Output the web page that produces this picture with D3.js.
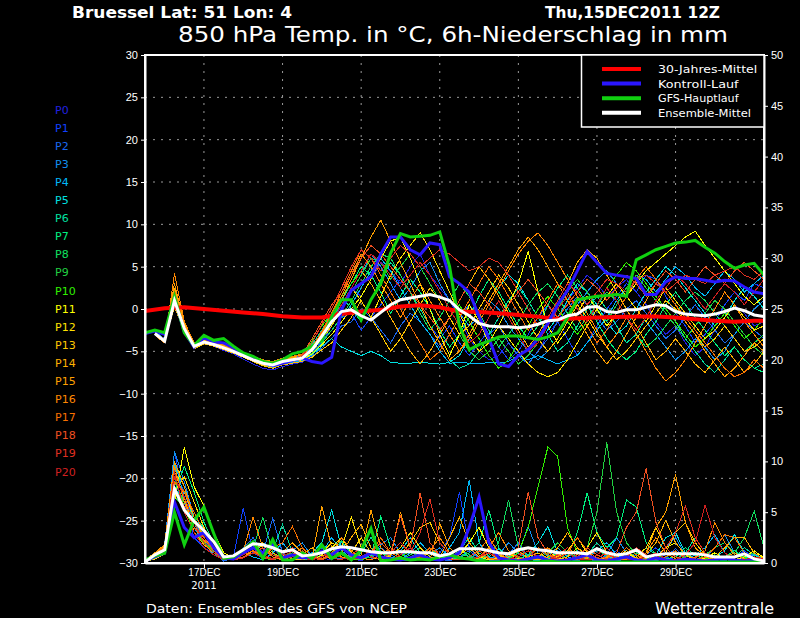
<!DOCTYPE html>
<html>
<head>
<meta charset="utf-8">
<script src="https://cdn.jsdelivr.net/npm/d3@7"></script>
<style>
  body { margin: 0; background: #000; }
  svg { display: block; font-family: "DejaVu Sans", sans-serif; }
</style>
</head>
<body>
<div id="chart"></div>
<script>
// ---- data (6-hourly steps from 15DEC2011 12Z) ----
var memberNames = ['P0','P1','P2','P3','P4','P5','P6','P7','P8','P9','P10',
                   'P11','P12','P13','P14','P15','P16','P17','P18','P19','P20'];
var memberColors = ['#2020e0','#1040ff','#1868f0','#1090f0','#00b8f8','#00e0e0',
                    '#00e0a0','#00f080','#10e060','#20d040','#30f000','#ffff00',
                    '#ffe000','#ffc800','#ffb000','#ffa000','#ff8800','#f87000',
                    '#f05020','#e03020','#d02020'];

var xTickDays = ['2011-12-17','2011-12-19','2011-12-21','2011-12-23','2011-12-25','2011-12-27','2011-12-29'];
var tempTicks = [-30,-25,-20,-15,-10,-5,0,5,10,15,20,25,30];
var precTicks = [0,5,10,15,20,25,30,35,40,45,50];

// 850 hPa temperature of each member
var t_P0 = [null,-2.8,-3.6,0.5,-2.5,-4.6,-4.1,-4.4,-4.9,-5.3,-5.9,-6.5,-7.0,-7.2,-6.8,-6.5,-6.3,-5.5,-4.0,
  -2.0,0.5,2.5,1.5,3.5,5.5,4.5,3.0,5.0,6.5,4.0,2.5,1.0,-1.0,-3.5,-5.0,-6.0,-5.5,-4.0,-5.5,-6.5,-5.0,-3.0,-1.5,1.0,2.5,4.0,3.0,1.5,2.5,3.5,2.0,0.5,-1.5,-3.0,-2.0,-4.0,-5.5,-4.5,-2.5,-1.0,0.5,-0.5,-2.0,-1.5,-1.0];
var t_P1 = [null,-3.0,-3.9,1.5,-2.0,-4.3,-3.8,-4.1,-4.5,-4.9,-5.4,-6.0,-6.5,-6.8,-6.5,-6.3,-6.1,-5.2,-3.8,
  -2.5,-1.0,-0.5,-2.5,-1.0,0.5,2.0,3.5,2.0,0.0,-2.0,-3.5,-2.0,-4.0,-5.5,-4.0,-2.5,-4.5,-6.0,-5.0,-3.0,-1.0,0.5,-1.5,-3.5,-5.5,-4.0,-2.0,0.0,1.5,3.0,2.0,4.0,3.5,1.5,-0.5,-2.0,-4.0,-3.0,-1.5,0.5,2.0,1.0,3.0,2.5,2.0];
var t_P2 = [null,-2.9,-3.7,0.8,-2.4,-4.5,-4.0,-4.3,-4.7,-5.1,-5.6,-6.2,-6.7,-7.0,-6.6,-6.4,-6.2,-5.6,-4.6,
  -3.5,-2.0,-1.5,0.0,-1.0,-2.5,-4.0,-2.0,-0.5,-1.5,-3.0,-4.5,-3.0,-1.0,0.5,-1.0,-3.0,-2.0,-4.0,-5.5,-6.5,-5.0,-3.5,-1.5,0.0,1.5,0.5,-1.0,-2.5,-1.5,0.0,1.0,-0.5,-2.0,-3.5,-2.5,-1.0,0.5,-1.0,-2.5,-4.0,-3.0,-1.5,-2.5,-3.5,-3.0];
var t_P3 = [null,-2.7,-3.5,2.0,-2.0,-4.2,-3.7,-4.0,-4.4,-4.8,-5.3,-5.8,-6.2,-6.4,-6.0,-5.8,-5.5,-4.5,-2.8,
  -1.0,0.5,2.0,4.0,6.5,5.0,3.0,1.0,2.5,4.5,5.5,3.0,1.0,-0.5,-2.0,-1.0,1.0,0.0,-2.0,-3.5,-5.0,-6.0,-5.0,-3.5,-1.5,0.5,2.0,3.5,4.5,3.0,1.5,0.0,-1.5,-3.0,-4.5,-6.0,-5.0,-3.5,-4.5,-6.0,-5.0,-3.0,-1.5,0.0,1.0,0.5];
var t_P4 = [null,-3.1,-4.0,1.2,-2.2,-4.6,-4.1,-4.4,-4.8,-5.2,-5.7,-6.2,-6.6,-6.9,-6.5,-6.3,-6.1,-5.3,-4.0,
  -2.5,-1.0,0.5,2.5,4.5,6.0,4.5,2.5,0.5,-1.5,-3.0,-5.0,-6.4,-6.3,-6.4,-6.5,-6.3,-6.4,-6.2,-5.5,-6.0,-5.5,-6.0,-6.5,-6.0,-5.5,-4.0,-2.5,-1.0,1.0,2.5,4.0,3.5,2.0,3.5,5.0,4.0,2.5,1.5,3.0,4.5,3.5,2.0,3.0,4.0,3.5];
var t_P5 = [null,-2.9,-3.8,0.6,-2.6,-4.5,-4.0,-4.3,-4.7,-5.1,-5.6,-6.1,-6.5,-6.8,-6.4,-6.2,-6.0,-5.4,-4.4,
  -3.5,-4.5,-5.0,-5.5,-5.0,-5.5,-6.3,-6.4,-6.4,-6.3,-6.4,-6.5,-6.3,-5.5,-3.5,-1.5,0.5,2.5,4.0,3.0,1.0,-1.0,-2.5,-1.0,1.0,3.0,2.0,0.5,-1.5,-3.0,-2.0,0.0,2.0,3.5,5.0,4.0,2.5,1.0,-0.5,-2.0,-1.0,1.0,2.5,1.5,0.0,-1.0];
var t_P6 = [null,-2.8,-3.7,1.8,-2.1,-4.3,-3.8,-4.1,-4.5,-4.9,-5.4,-5.9,-6.3,-6.5,-6.1,-5.9,-5.6,-4.2,-2.5,
  -0.5,1.5,0.0,-1.5,1.0,3.5,5.5,4.0,2.0,0.0,-2.0,-4.0,-6.0,-7.0,-6.5,-5.0,-3.0,-1.0,1.0,2.5,1.0,-1.0,-3.0,-5.0,-4.0,-2.0,0.0,1.5,0.0,-2.0,-4.0,-3.0,-1.0,1.0,0.0,-1.5,-3.5,-5.0,-6.5,-7.5,-6.0,-4.5,-6.0,-7.0,-6.5,-7.0];
var t_P7 = [null,-3.0,-3.9,1.3,-2.3,-4.4,-3.9,-4.2,-4.6,-5.0,-5.5,-6.0,-6.4,-6.6,-6.2,-6.0,-5.8,-4.9,-3.4,
  -1.5,1.0,3.0,5.0,4.0,2.0,-0.5,1.5,3.5,2.0,0.0,-2.5,-4.5,-3.0,-1.0,1.5,3.5,2.0,0.0,-2.0,-3.5,-2.0,0.5,2.5,4.0,2.5,0.5,-1.5,-3.5,-5.0,-6.0,-5.0,-3.0,-1.5,0.5,2.0,0.5,-1.0,-2.5,-4.0,-5.5,-4.5,-6.0,-7.0,-7.5,-7.5];
var t_P8 = [null,-2.8,-3.6,0.9,-2.4,-4.5,-4.0,-4.3,-4.7,-5.1,-5.6,-6.1,-6.5,-6.7,-6.3,-6.1,-5.9,-5.2,-4.0,
  -2.5,-1.0,1.0,3.0,5.0,6.5,6.0,4.0,2.0,-0.5,-2.5,-1.0,1.0,3.0,1.5,-0.5,-2.5,-4.5,-3.0,-1.5,0.5,2.0,3.0,1.5,-0.5,-2.5,-1.0,0.5,2.0,1.0,-1.0,-3.0,-4.5,-3.5,-2.0,-0.5,1.0,2.0,1.0,-0.5,-2.0,-3.5,-5.0,-4.0,-3.0,-3.5];
var t_P9 = [null,-2.9,-3.8,1.0,-2.5,-4.4,-3.9,-4.2,-4.6,-5.0,-5.5,-6.0,-6.4,-6.6,-6.2,-6.0,-5.8,-4.6,-3.0,
  -1.5,0.5,2.0,4.0,6.0,5.5,3.5,5.0,6.5,5.0,3.0,1.0,-1.0,-3.0,-5.0,-6.0,-5.0,-3.5,-5.0,-6.5,-5.5,-4.0,-2.0,0.0,2.0,3.5,2.0,0.0,-1.5,0.5,2.5,4.0,2.5,1.0,-0.5,-2.0,-3.5,-2.0,-0.5,1.0,0.0,-1.5,-3.0,-4.5,-5.5,-6.0];
var t_P10 = [null,-2.9,-3.7,1.6,-2.2,-4.3,-3.8,-4.1,-4.5,-4.9,-5.4,-5.9,-6.3,-6.5,-6.1,-5.9,-5.5,-3.8,-2.0,
  -0.5,1.5,3.0,4.5,3.0,1.0,-1.0,-3.0,-5.0,-6.5,-5.0,-3.0,-1.0,0.5,-1.5,-3.5,-5.5,-7.0,-6.0,-4.0,-2.0,0.0,1.5,0.0,-1.5,-3.0,-1.5,0.5,2.5,4.0,5.5,4.5,3.0,1.5,0.0,-1.5,-3.0,-4.5,-3.5,-2.0,-0.5,-2.0,-3.5,-2.5,-1.0,-1.5];
var t_P11 = [null,-3.0,-3.9,0.7,-2.6,-4.6,-4.1,-4.4,-4.8,-5.2,-5.7,-6.2,-6.6,-6.8,-6.4,-6.2,-6.0,-5.3,-4.2,
  -3.0,-1.5,0.0,1.5,3.5,6.0,8.0,8.5,6.0,3.0,0.0,-3.0,-5.5,-3.0,0.5,-1.5,-4.0,-2.0,0.5,3.0,6.8,2.0,-2.0,-4.0,-2.5,-0.5,1.5,0.0,-2.0,-0.5,1.5,3.0,4.5,5.5,6.5,7.5,8.5,9.2,7.5,6.0,4.5,3.0,1.5,0.5,1.5,1.0];
var t_P12 = [null,-2.8,-3.6,1.1,-2.3,-4.4,-3.9,-4.2,-4.6,-5.0,-5.5,-6.0,-6.4,-6.6,-6.2,-6.0,-5.8,-5.0,-3.6,
  -2.0,0.0,2.5,1.0,-1.0,1.5,4.0,6.0,7.5,9.0,7.0,4.5,2.0,-0.5,-3.0,-5.0,-4.0,-2.0,-3.5,-5.0,-6.5,-7.5,-8.0,-7.5,-6.0,-4.0,-2.0,0.0,1.5,3.0,1.5,0.0,-1.5,0.5,2.5,1.0,-0.5,-2.0,-3.5,-2.5,-1.0,0.5,-1.0,-2.5,-2.0,-1.5];
var t_P13 = [null,-3.0,-3.8,0.3,-2.7,-4.7,-4.1,-4.4,-4.8,-5.2,-5.7,-6.2,-6.7,-7.0,-6.6,-6.4,-6.2,-5.7,-4.8,
  -4.0,-2.5,-1.0,1.0,-1.0,-3.0,-5.0,-3.5,-1.5,0.5,2.5,1.0,-1.0,-3.0,-2.0,0.0,2.0,4.0,2.5,0.5,-1.5,-3.5,-5.0,-3.5,-1.5,0.5,-1.0,-3.0,-4.5,-6.0,-5.0,-3.5,-2.0,-0.5,1.0,0.0,-1.5,-3.0,-4.5,-3.5,-2.0,-3.5,-5.0,-4.5,-3.5,-4.0];
var t_P14 = [null,-2.9,-3.7,2.5,-1.8,-4.2,-3.7,-4.0,-4.4,-4.8,-5.3,-5.8,-6.2,-6.4,-6.0,-5.8,-5.6,-4.8,-3.3,
  -1.5,0.5,2.5,4.5,3.0,1.0,-1.0,-3.0,-5.0,-6.5,-5.0,-3.0,-1.0,1.0,3.0,5.0,3.5,1.5,-0.5,-2.5,-4.5,-3.0,-1.0,1.0,3.0,5.5,7.0,6.0,4.0,2.0,0.0,-2.0,-4.0,-6.0,-5.0,-3.5,-5.0,-6.5,-7.5,-6.0,-4.5,-6.0,-7.5,-6.5,-5.0,-5.5];
var t_P15 = [null,-2.8,-3.6,3.0,-1.6,-4.1,-3.6,-3.9,-4.3,-4.7,-5.2,-5.7,-6.1,-6.3,-5.9,-5.7,-5.4,-4.5,-3.0,
  -1.0,1.0,3.5,6.0,8.5,10.5,8.0,5.5,3.0,0.5,-2.0,-4.0,-6.0,-5.0,-3.0,-1.0,1.0,3.0,5.0,7.0,8.5,7.0,5.0,3.0,1.0,-1.0,-3.0,-5.0,-6.5,-5.0,-3.0,-1.0,1.0,3.0,2.0,0.5,-1.5,-3.0,-5.0,-6.5,-8.0,-7.0,-5.5,-4.0,-5.0,-4.5];
var t_P16 = [null,-3.1,-4.0,4.2,-1.5,-4.0,-3.5,-3.8,-4.2,-4.6,-5.1,-5.6,-6.0,-6.2,-5.8,-5.6,-5.3,-4.4,-2.8,
  -0.5,1.5,4.0,6.5,5.0,3.0,1.0,-1.0,1.0,3.0,1.0,-1.0,-3.0,-5.0,-3.5,-1.5,0.5,2.5,4.5,6.5,8.0,9.0,7.5,5.5,3.5,1.5,-0.5,-2.5,-4.5,-3.0,-1.0,-3.0,-5.0,-7.0,-8.5,-7.5,-6.0,-4.0,-2.0,0.0,2.0,0.5,-1.5,-3.0,-4.5,-5.5];
var t_P17 = [null,-2.9,-3.8,2.2,-2.0,-4.3,-3.8,-4.1,-4.5,-4.9,-5.4,-5.9,-6.3,-6.5,-6.1,-5.9,-5.7,-4.6,-2.6,
  -0.5,2.0,4.5,7.0,6.0,4.0,2.0,0.0,-2.0,-4.0,-6.0,-5.0,-3.0,-1.0,1.0,3.0,5.0,3.5,1.5,-0.5,-2.5,-1.0,1.0,3.0,2.0,0.0,-2.0,-4.0,-2.5,-0.5,1.5,3.5,5.0,3.5,2.0,0.5,-1.0,-2.5,-4.0,-5.5,-7.0,-8.0,-7.5,-6.0,-7.0,-7.5];
var t_P18 = [null,-3.0,-3.9,1.4,-2.2,-4.4,-3.9,-4.2,-4.6,-5.0,-5.5,-6.0,-6.4,-6.6,-6.2,-6.0,-5.4,-3.5,-1.5,
  0.5,2.0,4.0,6.0,7.5,6.5,5.0,3.5,2.0,0.5,-1.0,-2.5,-1.0,1.0,3.0,2.0,0.5,-1.0,0.5,2.0,3.5,2.0,0.5,-1.0,0.5,2.0,3.5,2.5,1.0,2.5,4.0,3.0,1.5,3.0,4.5,3.5,2.0,3.5,5.0,4.0,3.0,4.5,5.5,4.5,3.5,4.0];
var t_P19 = [null,-2.9,-3.7,0.9,-2.4,-4.5,-4.0,-4.3,-4.7,-5.1,-5.6,-6.1,-6.5,-6.7,-6.3,-6.1,-5.6,-4.0,-1.8,
  0.0,2.5,5.0,7.0,6.0,4.5,6.0,7.5,6.5,5.0,6.0,7.0,6.5,5.5,4.5,5.0,6.0,5.5,4.0,2.0,0.0,-2.0,-1.0,1.0,3.0,2.0,0.5,2.0,3.5,3.0,2.0,3.5,4.0,3.0,2.0,3.0,4.0,3.5,3.0,4.0,4.5,5.0,4.0,3.5,4.5,5.0];
var t_P20 = [null,-2.8,-3.6,1.2,-2.3,-4.4,-3.9,-4.2,-4.6,-5.0,-5.5,-6.0,-6.4,-6.6,-6.2,-6.0,-5.7,-4.8,-3.2,
  -1.5,0.5,2.5,4.5,6.5,5.5,4.0,2.5,4.0,5.5,4.0,2.0,0.0,-2.0,-4.0,-3.0,-1.0,1.0,-1.0,-3.0,-5.0,-4.0,-2.0,0.0,1.5,0.0,-1.5,0.5,2.5,1.0,-1.0,-2.5,-1.0,1.0,2.5,4.0,3.0,1.5,0.0,1.5,3.0,2.0,0.5,2.0,3.5,3.0];

// 6h precipitation of each member (mm)
var p_P0 = [0.1,0.8,1.5,8.5,5.0,3.0,2.0,1.5,0.5,0.3,0.8,1.2,2.0,1.0,0.5,0.3,0.8,1.5,0.5,0.3,1.0,0.5,0.2,0.8,1.5,0.5,0.2,0.4,1.0,0.3,0.2,0.6,1.5,0.8,0.3,0.1,0.5,0.2,0.1,0.3,0.8,0.4,0.2,0.1,0.3,0.6,0.2,0.1,0.4,1.0,0.3,0.1,0.2,0.5,0.2,0.1,0.3,0.6,0.2,0.1,0.4,0.2,0.1,0.3,0.1];
var p_P1 = [0.2,0.5,1.0,11.0,6.0,2.5,1.5,1.0,0.3,0.6,5.4,1.0,0.5,1.5,0.8,0.4,0.6,1.0,0.4,0.8,1.5,0.6,0.3,1.0,0.5,0.2,0.8,1.2,0.4,0.3,1.0,2.5,7.0,1.5,0.5,0.3,0.8,0.4,0.2,0.5,1.5,0.6,0.3,0.2,0.8,0.4,0.2,0.6,1.2,0.5,0.3,0.8,1.5,0.6,0.3,0.2,0.5,1.0,0.4,0.2,0.6,1.2,0.5,0.3,0.2];
var p_P2 = [0.1,0.7,1.2,9.0,7.0,4.0,2.5,1.0,0.2,0.5,1.5,2.5,1.0,4.4,1.0,0.3,0.5,0.8,1.5,0.6,0.4,1.0,0.5,0.3,1.5,0.8,0.3,0.2,0.5,1.0,0.4,0.2,0.6,1.2,0.5,0.3,0.2,0.8,2.0,0.6,0.3,0.5,1.2,0.4,0.2,0.6,1.5,0.5,0.2,0.4,0.8,0.3,0.2,0.6,1.4,0.5,0.2,0.3,0.8,0.4,0.2,0.5,0.9,0.3,0.1];
var p_P3 = [0.2,0.9,1.8,11.0,8.0,4.5,2.0,1.2,0.4,0.3,0.6,1.0,1.5,0.8,0.4,1.2,2.0,0.6,0.3,0.8,2.0,1.0,0.4,0.6,1.8,2.5,1.0,0.4,0.3,0.8,1.5,0.6,0.3,0.5,1.0,0.4,0.8,2.0,1.0,3.6,1.0,0.4,0.3,0.6,1.2,0.5,0.3,0.8,2.5,1.0,0.4,0.2,0.6,1.5,2.5,0.8,0.3,0.5,1.5,2.8,1.0,0.4,0.3,0.6,0.2];
var p_P4 = [0.1,0.6,1.3,10.0,6.5,3.5,2.0,0.8,0.3,0.4,1.0,0.6,0.3,1.0,2.0,0.8,0.4,0.6,1.0,2.5,1.2,0.5,0.3,0.8,1.5,0.6,0.3,1.0,2.0,1.0,0.5,1.5,3.0,8.2,2.0,0.6,0.3,0.5,1.0,0.4,0.2,0.8,1.5,0.6,0.3,0.5,1.2,2.0,0.8,0.4,0.3,1.0,2.5,1.0,0.4,0.3,0.8,1.5,2.8,1.0,0.4,0.3,0.8,0.4,0.2];
var p_P5 = [0.3,0.8,1.5,9.5,7.5,4.0,1.8,1.0,0.4,0.5,0.8,1.5,0.6,0.3,0.8,1.5,0.5,1.0,2.0,5.2,1.5,0.6,0.4,1.0,0.5,0.3,1.2,2.5,1.0,0.5,0.3,0.8,1.5,0.6,0.3,0.6,1.4,0.5,0.3,0.8,2.0,3.6,1.0,0.4,0.3,0.8,1.5,0.6,0.4,1.0,0.5,0.3,0.8,2.5,3.0,1.0,0.4,0.3,0.6,1.2,2.8,1.0,0.4,0.3,0.2];
var p_P6 = [0.2,0.5,1.0,7.5,6.0,4.5,3.5,1.5,0.5,0.3,0.6,1.0,2.0,1.2,3.8,1.0,0.4,0.3,0.8,1.5,0.6,0.3,1.0,2.5,1.0,0.4,0.3,0.8,1.5,0.6,0.3,0.5,1.2,2.5,1.0,0.4,0.3,0.6,1.5,0.8,0.4,0.2,0.5,1.0,0.4,0.8,2.0,1.0,0.5,0.3,0.6,1.5,0.8,0.4,0.3,1.0,2.5,1.0,0.5,0.3,0.6,1.5,0.8,0.3,0.2];
var p_P7 = [0.1,0.6,1.2,7.0,9.5,7.0,4.0,2.0,0.6,0.4,1.0,1.6,0.8,0.4,1.0,2.0,1.0,0.5,0.3,0.8,1.5,0.8,0.4,0.6,4.6,1.5,0.6,0.3,0.8,1.5,0.6,0.3,0.5,1.0,2.0,5.2,1.5,0.6,0.4,0.8,1.5,0.8,0.4,0.6,3.0,6.9,3.0,1.5,2.5,6.2,5.5,2.0,0.8,0.4,0.6,1.5,0.8,0.4,0.3,0.6,1.2,0.6,0.3,0.5,0.2];
var p_P8 = [0.2,0.7,1.4,8.0,6.0,3.5,2.5,1.0,0.3,0.4,0.8,1.5,4.5,1.0,0.4,0.6,1.2,0.5,0.3,1.0,2.2,0.8,0.4,0.6,1.0,0.5,0.3,0.8,1.5,0.6,0.3,0.5,1.0,0.6,0.3,0.8,2.0,6.2,1.5,0.6,0.3,0.5,1.0,0.4,0.3,0.8,1.5,0.6,0.3,0.5,1.0,0.5,0.3,0.6,1.2,0.5,0.3,0.8,1.5,2.0,1.0,2.5,5.1,1.5,0.3];
var p_P9 = [0.1,0.5,1.0,6.5,5.5,4.0,3.0,2.0,0.8,0.4,0.6,1.0,0.6,0.3,0.8,1.5,0.6,0.4,0.8,1.5,0.8,0.4,0.3,0.6,1.2,0.5,0.3,0.6,1.0,0.4,0.3,0.6,1.5,0.8,0.4,0.3,0.5,1.0,0.6,0.3,0.5,1.0,2.0,1.0,0.6,1.5,5.0,11.9,5.0,2.0,0.8,0.4,0.3,0.6,1.0,0.5,0.3,0.5,0.8,0.4,0.3,0.6,1.0,0.4,0.2];
var p_P10 = [0.2,0.6,1.2,8.5,5.5,3.0,2.0,1.2,0.5,0.3,0.8,1.2,0.5,0.3,0.6,1.0,0.5,0.3,0.6,1.2,0.6,0.3,0.5,1.0,0.5,0.3,0.6,1.2,0.5,0.3,0.5,1.0,0.4,0.3,0.6,1.5,0.8,0.4,1.0,3.5,7.5,11.4,10.5,3.5,1.0,0.5,0.3,0.6,1.0,0.5,0.3,0.5,0.8,0.4,0.3,0.6,1.0,0.5,0.3,0.6,1.0,0.5,0.3,0.4,0.2];
var p_P11 = [0.1,0.4,0.9,6.0,11.4,7.5,5.6,3.0,1.0,0.5,0.8,1.5,0.8,0.4,0.6,1.2,0.5,0.3,0.8,1.5,2.5,1.0,0.5,0.3,0.8,1.5,0.6,0.3,0.5,1.0,0.4,0.3,0.8,2.0,3.5,1.5,0.5,0.3,0.8,1.5,0.6,0.3,0.5,1.2,2.5,1.0,0.4,0.3,0.6,1.0,0.5,0.3,0.6,1.5,2.0,0.8,0.3,0.5,1.0,0.4,0.3,0.6,1.2,0.5,0.2];
var p_P12 = [0.2,0.6,1.1,7.0,8.5,6.0,3.5,1.5,0.5,0.3,0.6,1.0,1.8,0.8,0.4,0.6,1.2,0.5,1.0,2.0,1.5,4.5,1.5,0.6,0.3,0.8,1.5,3.0,1.5,0.6,0.4,0.3,0.8,1.5,0.6,0.3,0.5,1.0,0.4,0.3,0.6,1.2,0.5,0.3,0.6,1.5,3.0,1.0,0.4,0.3,0.6,1.5,3.5,1.5,0.6,0.3,0.5,1.0,0.4,0.3,0.6,1.0,0.5,0.3,0.2];
var p_P13 = [0.1,0.5,1.0,8.0,7.0,4.5,2.5,1.5,0.6,0.3,0.5,1.0,0.6,1.5,0.8,0.4,0.3,0.6,1.2,0.5,0.3,1.0,2.5,1.0,0.4,0.3,0.8,2.0,3.5,4.0,2.0,0.8,0.4,0.3,0.6,1.5,0.8,0.4,0.3,0.6,1.0,0.5,0.3,0.6,1.5,0.8,0.4,0.3,0.6,1.2,0.5,0.3,0.6,1.0,3.0,4.0,2.0,0.8,0.4,0.3,0.6,1.0,0.5,0.3,0.2];
var p_P14 = [0.2,0.8,1.6,9.0,6.5,3.0,1.8,1.0,0.4,0.3,0.6,1.2,2.0,1.0,0.5,0.3,0.8,1.5,0.8,0.4,1.0,2.5,3.8,1.5,0.6,0.3,0.8,1.5,0.6,0.3,0.5,2.5,4.5,2.0,0.8,0.4,0.3,0.6,1.2,0.5,0.3,0.6,1.5,3.0,1.5,0.6,0.3,0.5,1.0,0.4,0.3,0.8,2.0,4.2,2.0,0.8,0.4,0.3,0.6,1.5,2.5,2.5,1.0,0.4,0.2];
var p_P15 = [0.3,1.0,1.8,10.0,7.5,4.5,2.5,1.2,0.4,0.3,0.8,1.5,0.6,0.4,1.0,2.0,1.0,0.5,5.6,1.5,0.6,0.3,0.8,5.2,1.5,0.6,5.0,1.5,0.6,0.3,3.9,1.5,0.6,0.3,0.5,1.0,0.4,0.3,0.6,1.2,0.5,0.3,0.6,1.5,0.8,0.4,0.3,0.6,1.0,0.5,0.3,1.0,3.5,5.0,8.7,4.0,1.5,0.6,0.3,0.5,1.0,0.4,0.3,0.5,0.2];
var p_P16 = [0.2,0.9,1.7,9.5,6.0,3.5,2.2,1.4,0.5,0.6,1.2,4.5,1.5,0.6,0.3,0.8,1.5,0.6,0.4,1.0,2.5,1.2,0.5,0.3,0.8,1.5,0.6,0.3,0.5,1.2,2.5,1.0,0.4,0.3,0.6,1.5,3.0,1.2,0.5,0.3,0.6,1.5,0.8,0.4,0.3,0.6,1.5,0.8,0.4,0.3,0.5,1.0,2.5,1.0,0.4,0.3,0.6,1.2,4.0,2.0,0.8,0.4,0.3,0.5,0.2];
var p_P17 = [0.1,0.7,1.3,8.0,7.0,5.0,3.0,1.5,0.6,0.4,0.8,1.2,0.6,1.5,2.0,3.6,1.5,0.6,0.4,0.8,1.5,0.6,0.4,1.0,2.5,1.0,0.5,0.3,0.6,1.5,0.8,0.4,0.3,0.6,1.2,2.5,1.0,0.4,0.3,0.6,1.5,0.8,0.4,1.0,2.5,1.2,0.5,0.3,0.6,1.5,0.8,0.4,0.3,0.6,1.2,0.5,0.3,0.6,1.5,2.8,2.5,1.0,0.4,0.3,0.2];
var p_P18 = [0.2,0.8,1.5,7.5,5.5,3.5,2.5,1.2,0.4,0.3,0.6,1.0,1.5,0.8,0.4,0.6,1.2,0.5,0.3,0.8,1.5,0.6,0.4,1.0,2.0,1.0,4.6,1.5,6.9,2.0,0.8,0.4,0.3,0.6,1.2,0.5,0.3,0.8,1.5,7.0,2.5,1.0,0.4,0.3,0.6,1.5,0.8,0.4,1.0,3.5,5.0,9.3,4.0,1.5,0.6,0.3,0.5,1.0,0.4,0.3,0.6,1.0,0.5,0.3,0.2];
var p_P19 = [0.1,0.6,1.2,8.5,6.5,4.0,2.0,1.0,0.4,0.3,0.5,1.0,0.6,0.3,0.8,1.5,0.6,0.4,1.0,0.5,0.3,0.8,1.5,0.6,0.4,1.0,2.0,1.0,3.0,6.3,2.0,0.8,0.4,0.3,0.6,1.0,0.5,0.3,0.6,1.2,0.5,0.3,0.8,1.5,0.6,0.3,0.5,1.0,0.4,0.6,1.5,0.8,0.4,1.5,3.0,5.6,2.5,1.0,0.4,0.3,0.6,1.0,0.5,0.3,0.2];
var p_P20 = [0.2,0.7,1.4,9.0,5.0,3.0,1.5,0.8,0.3,0.4,0.8,1.5,0.8,0.4,0.6,1.2,0.5,0.3,0.6,1.0,0.5,0.3,0.6,1.2,0.5,0.3,0.8,1.5,0.6,0.3,0.5,1.0,0.4,0.3,0.6,1.2,0.5,0.3,0.8,1.5,0.6,0.3,0.5,1.0,0.4,0.3,0.8,1.5,0.6,0.4,0.3,0.6,1.0,0.4,0.3,0.8,2.0,5.7,2.5,1.0,0.4,0.3,0.6,0.4,0.2];

// main runs
var tempControl = [-2.9,-2.6,-3.0,1.2,-2.7,-4.5,-3.4,-3.9,-4.0,-4.6,-5.4,-5.9,-6.4,-6.7,-6.4,-6.1,-5.8,-6.2,-6.4,
  -5.7,-0.1,2.2,3.0,3.8,6.5,8.5,8.5,7.0,6.4,7.8,7.6,3.8,3.0,2.0,-0.9,-3.5,-6.5,-6.8,-5.5,-4.8,-3.5,-1.7,0.5,2.2,4.5,6.8,5.5,4.2,4.0,3.8,3.6,1.7,1.7,3.2,3.8,3.6,3.6,3.4,3.2,3.4,3.3,2.6,2.0,1.8,2.0];
var tempGFS = [-2.8,-2.5,-2.8,1.5,-2.8,-4.3,-3.1,-3.7,-3.5,-4.4,-5.2,-5.6,-6.2,-6.4,-6.0,-5.3,-5.0,-4.4,-3.7,
  -0.9,1.1,1.1,-1.3,1.1,3.0,6.6,8.9,8.5,8.6,8.7,9.1,5.0,-2.0,-4.8,-4.2,-3.8,-3.3,-3.2,-3.2,-3.4,-3.6,-3.3,-2.8,-1.0,1.1,1.3,1.5,1.6,1.7,1.5,5.8,6.4,7.0,7.4,7.8,7.9,8.1,7.3,6.6,5.6,4.8,5.2,5.4,4.0,3.4];
var tempMean = [null,-2.9,-3.8,1.0,-2.3,-4.4,-3.9,-4.2,-4.6,-5.0,-5.5,-6.0,-6.4,-6.6,-6.2,-6.0,-5.8,-4.8,-3.2,
  -1.5,-0.3,-0.1,-0.8,-1.3,-0.4,0.5,1.1,1.3,1.5,1.7,1.4,1.0,-0.1,-0.8,-1.7,-2.0,-2.1,-2.1,-2.2,-2.1,-1.8,-1.4,-1.3,-0.8,-0.6,0.2,0.3,-0.3,-0.4,-0.1,-0.1,0.2,0.5,0.4,-0.3,-0.6,-0.7,-0.8,-0.6,-0.3,0.1,-0.2,-0.7,-0.9,-1.0];
// 30-year climate mean, 12-hourly
var tempClimate = [-0.25,0.1,0.2,0.0,-0.2,-0.4,-0.6,-0.85,-1.0,-1.0,-0.6,-0.3,-0.1,0.3,0.45,0.2,-0.3,-0.35,-0.5,-0.7,-0.9,-1.2,-1.1,-1.0,-0.95,-0.9,-0.9,-1.0,-1.2,-1.4,-1.5,-1.4,-1.4];

var precControl = [0.2,0.6,1.0,6.0,3.5,2.5,3.0,1.5,0.5,0.4,1.0,1.5,1.0,1.8,0.5,0.8,0.5,0.6,1.2,0.8,1.5,0.8,0.5,1.0,0.6,0.4,0.3,0.5,0.8,0.4,0.3,0.5,1.0,3.5,6.5,2.0,0.5,0.3,0.2,0.4,0.6,0.3,0.2,0.3,0.5,0.8,0.3,0.2,0.4,0.6,0.3,0.2,0.5,0.3,0.2,0.4,0.3,0.2,0.3,0.5,0.3,0.2,0.3,0.2,0.1];
var precGFS = [0.3,0.7,0.95,5.0,1.8,4.2,5.5,2.9,0.45,0.6,1.3,2.1,0.45,2.3,0.3,0.3,1.0,0.45,1.8,0.45,1.0,0.3,1.3,3.4,0.2,0.3,0.5,0.3,0.4,0.3,0.6,0.8,0.5,0.4,0.2,0.1,0.1,0.2,0.1,0.1,0.1,0.2,0.1,0.1,0.1,0.1,0.1,0.1,0.1,0.1,0.1,0.1,0.1,0.1,0.1,0.1,0.1,0.1,0.1,0.1,0.1,0.1,0.1,0.1,0.1];
var precMean = [0.1,0.8,1.3,7.3,5.2,4.1,3.2,2.1,0.6,0.7,1.3,1.9,1.8,1.5,1.1,1.3,0.7,0.8,1.0,1.4,1.6,1.5,1.3,1.1,1.0,1.0,1.1,1.1,1.0,1.0,0.7,0.9,1.4,1.4,1.4,1.2,1.0,0.9,1.3,1.5,1.3,1.2,1.0,1.0,1.0,0.9,1.4,1.0,0.8,0.9,1.3,0.6,0.8,0.9,0.9,0.9,0.9,0.8,0.6,0.6,0.6,0.9,0.4,0.2,0.1];

var memberTemps = [t_P0,t_P1,t_P2,t_P3,t_P4,t_P5,t_P6,t_P7,t_P8,t_P9,t_P10,t_P11,t_P12,t_P13,t_P14,t_P15,t_P16,t_P17,t_P18,t_P19,t_P20];
var memberPrecs = [p_P0,p_P1,p_P2,p_P3,p_P4,p_P5,p_P6,p_P7,p_P8,p_P9,p_P10,p_P11,p_P12,p_P13,p_P14,p_P15,p_P16,p_P17,p_P18,p_P19,p_P20];

var legendNames = ['30-Jahres-Mittel', 'Kontroll-Lauf', 'GFS-Hauptlauf', 'Ensemble-Mittel'];
var legendColors = ['#ff0000', '#2a16ff', '#10d010', '#ffffff'];

// ---- layout ----
var svgWidth = 800, svgHeight = 618;
var margin = { top: 55, right: 36, bottom: 55, left: 145 };
var runStart = Date.UTC(2011, 11, 15, 12);
var hour = 3600 * 1000;

var svg = d3.select('#chart').append('svg')
    .attr('width', svgWidth)
    .attr('height', svgHeight);

svg.append('rect').attr('width', svgWidth).attr('height', svgHeight).attr('fill', '#000');

// scales
var x = d3.scaleUtc()
    .domain([new Date(runStart), new Date(Date.UTC(2011, 11, 31, 6))])
    .range([margin.left, svgWidth - margin.right]);
var yTemp = d3.scaleLinear().domain([-30, 30]).range([svgHeight - margin.bottom, margin.top]);
var yPrec = d3.scaleLinear().domain([0, 50]).range([svgHeight - margin.bottom, margin.top]);

var tickDates = xTickDays.map(function (s) { return new Date(s + 'T00:00:00Z'); });
function timeAt(i, step) { return new Date(runStart + i * step * hour); }

// grid
var grid = svg.append('g');
grid.selectAll('.hgrid')
    .data(tempTicks.filter(function (t) { return t > -30 && t < 30; }))
    .enter().append('line')
    .attr('x1', margin.left).attr('x2', svgWidth - margin.right)
    .attr('y1', function (d) { return yTemp(d); }).attr('y2', function (d) { return yTemp(d); })
    .attr('stroke', '#9a9a9a').attr('stroke-dasharray', '2,6');
grid.selectAll('.vgrid')
    .data(tickDates)
    .enter().append('line')
    .attr('x1', function (d) { return x(d); }).attr('x2', function (d) { return x(d); })
    .attr('y1', margin.top).attr('y2', svgHeight - margin.bottom)
    .attr('stroke', '#9a9a9a').attr('stroke-dasharray', '2,6');

// clip
svg.append('clipPath').attr('id', 'plotClip').append('rect')
    .attr('x', margin.left).attr('y', margin.top)
    .attr('width', svgWidth - margin.left - margin.right)
    .attr('height', svgHeight - margin.top - margin.bottom);

var plot = svg.append('g').attr('clip-path', 'url(#plotClip)');

function lineFor(yScale, step) {
    return d3.line()
        .defined(function (d) { return d != null; })
        .x(function (d, i) { return x(timeAt(i, step)); })
        .y(function (d) { return yScale(d); });
}
var tempLine = lineFor(yTemp, 6);
var precLine = lineFor(yPrec, 6);
var climLine = lineFor(yTemp, 12);

// precipitation members
plot.selectAll('.precMember')
    .data(memberPrecs)
    .enter().append('path')
    .attr('d', precLine)
    .attr('fill', 'none')
    .attr('stroke', function (d, i) { return memberColors[i]; })
    .attr('stroke-width', 1)
    .attr('shape-rendering', 'crispEdges');

// temperature members
plot.selectAll('.tempMember')
    .data(memberTemps)
    .enter().append('path')
    .attr('d', tempLine)
    .attr('fill', 'none')
    .attr('stroke', function (d, i) { return memberColors[i]; })
    .attr('stroke-width', 1)
    .attr('shape-rendering', 'crispEdges');

// climate mean
plot.append('path').attr('d', climLine(tempClimate))
    .attr('fill', 'none').attr('stroke', legendColors[0]).attr('stroke-width', 4);

// control, GFS, ensemble mean: precipitation and temperature
[[precControl, tempControl, legendColors[1]],
 [precGFS, tempGFS, legendColors[2]],
 [precMean, tempMean, legendColors[3]]].forEach(function (s) {
    plot.append('path').attr('d', precLine(s[0]))
        .attr('fill', 'none').attr('stroke', s[2]).attr('stroke-width', 3);
    plot.append('path').attr('d', tempLine(s[1]))
        .attr('fill', 'none').attr('stroke', s[2]).attr('stroke-width', 3);
});

// frame
svg.append('rect')
    .attr('x', margin.left).attr('y', margin.top)
    .attr('width', svgWidth - margin.left - margin.right)
    .attr('height', svgHeight - margin.top - margin.bottom)
    .attr('fill', 'none').attr('stroke', '#fff').attr('stroke-width', 2);

// axes
function styleAxis(g, size) {
    g.select('.domain').attr('stroke', '#fff').attr('stroke-width', 2);
    g.selectAll('.tick line').attr('stroke', '#fff');
    g.selectAll('.tick text').attr('fill', '#fff').style('font-size', size || '11px');
}

svg.append('g')
    .attr('transform', 'translate(' + margin.left + ',0)')
    .call(d3.axisLeft(yTemp).tickValues(tempTicks).tickSize(4).tickSizeOuter(0).tickPadding(3)
        .tickFormat(function (d) { return d < 0 ? '\u2212' + Math.abs(d) : d; }))
    .call(styleAxis);

svg.append('g')
    .attr('transform', 'translate(' + (svgWidth - margin.right) + ',0)')
    .call(d3.axisRight(yPrec).tickValues(precTicks).tickSize(4).tickSizeOuter(0).tickPadding(3))
    .call(styleAxis);

svg.append('g')
    .attr('transform', 'translate(0,' + (svgHeight - margin.bottom) + ')')
    .call(d3.axisBottom(x).tickValues(tickDates).tickSize(5).tickSizeOuter(0).tickPadding(1)
        .tickFormat(function (d) { return d3.utcFormat('%d%b')(d).toUpperCase(); }))
    .call(styleAxis, '10px');

svg.append('text')
    .attr('x', x(tickDates[0])).attr('y', 589)
    .attr('text-anchor', 'middle').attr('fill', '#fff').style('font-size', '10px')
    .text('2011');

// member labels
svg.selectAll('.memberLabel')
    .data(memberNames)
    .enter().append('text')
    .attr('x', 55)
    .attr('y', function (d, i) { return 113.5 + i * 18.1; })
    .attr('fill', function (d, i) { return memberColors[i]; })
    .style('font-size', '11px')
    .text(function (d) { return d; });

// legend box
var legend = svg.append('g');
legend.append('rect')
    .attr('x', 581.5).attr('y', margin.top)
    .attr('width', svgWidth - margin.right - 581.5).attr('height', 72)
    .attr('fill', '#000').attr('stroke', '#fff').attr('stroke-width', 1.5);
legendNames.forEach(function (name, i) {
    var ly = 69 + i * 14.6;
    legend.append('line')
        .attr('x1', 602).attr('x2', 641).attr('y1', ly).attr('y2', ly)
        .attr('stroke', legendColors[i]).attr('stroke-width', 4);
    legend.append('text')
        .attr('x', 658).attr('y', ly + 4)
        .attr('fill', '#fff').style('font-size', '11px')
        .attr('textLength', name.length * 6.2).attr('lengthAdjust', 'spacingAndGlyphs')
        .text(name);
});

// titles
svg.append('text')
    .attr('x', 72).attr('y', 17.5)
    .attr('fill', '#fff').style('font-size', '15px').style('font-weight', 'bold')
    .attr('textLength', 220).attr('lengthAdjust', 'spacingAndGlyphs')
    .text('Bruessel  Lat: 51 Lon: 4');
svg.append('text')
    .attr('x', 545).attr('y', 17.5)
    .attr('fill', '#fff').style('font-size', '15px').style('font-weight', 'bold')
    .attr('textLength', 175).attr('lengthAdjust', 'spacingAndGlyphs')
    .text('Thu,15DEC2011 12Z');
svg.append('text')
    .attr('x', 178).attr('y', 42)
    .attr('fill', '#fff').style('font-size', '22px')
    .attr('textLength', 550).attr('lengthAdjust', 'spacingAndGlyphs')
    .text('850 hPa Temp. in \u00b0C, 6h-Niederschlag in mm');

// footer
svg.append('text')
    .attr('x', 146).attr('y', 612.5)
    .attr('fill', '#fff').style('font-size', '12.5px')
    .attr('textLength', 261).attr('lengthAdjust', 'spacingAndGlyphs')
    .text('Daten: Ensembles des GFS von NCEP');
svg.append('text')
    .attr('x', 655).attr('y', 613.5)
    .attr('fill', '#fff').style('font-size', '15.5px')
    .attr('textLength', 119).attr('lengthAdjust', 'spacingAndGlyphs')
    .text('Wetterzentrale');
</script>
</body>
</html>
